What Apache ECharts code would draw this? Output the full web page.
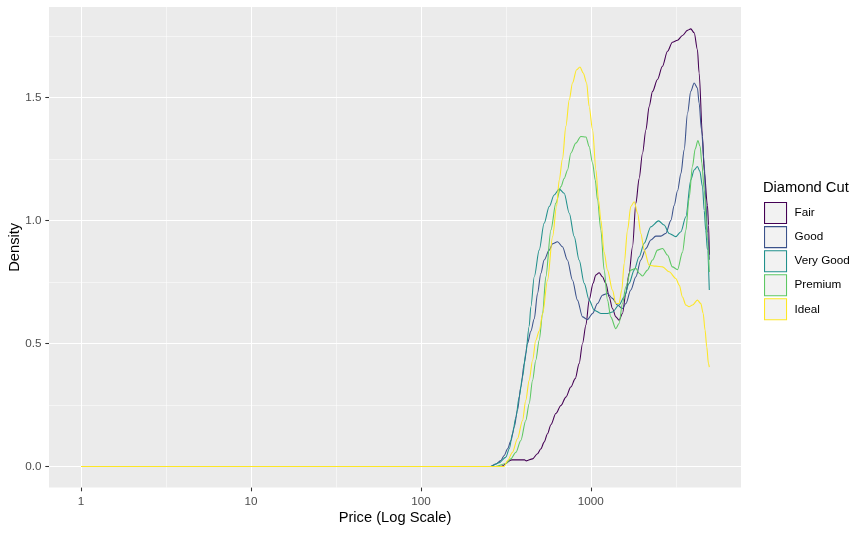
<!DOCTYPE html>
<html>
<head>
<meta charset="utf-8">
<script src="https://cdn.jsdelivr.net/npm/echarts@6/dist/echarts.min.js"></script>
<style>
html,body{margin:0;padding:0;background:#fff;}
#chart{width:865px;height:533px;}
</style>
</head>
<body>
<div id="chart"></div>
<script>
const cuts = ['Fair', 'Good', 'Very Good', 'Premium', 'Ideal'];
const cutColors = ['#440154', '#3B528B', '#21908C', '#5DC863', '#FDE725'];

const fairLogPrice = [0, 2.47, 2.535, 2.61, 2.62, 2.657, 2.686, 2.706, 2.725, 2.745, 2.765, 2.794, 2.824, 2.853, 2.882, 2.908, 2.931, 2.951, 2.971, 2.99, 3.013, 3.029, 3.049, 3.068, 3.088, 3.108, 3.127, 3.147, 3.166, 3.186, 3.206, 3.225, 3.245, 3.265, 3.284, 3.304, 3.324, 3.343, 3.363, 3.392, 3.421, 3.451, 3.48, 3.51, 3.539, 3.568, 3.588, 3.608, 3.627, 3.637, 3.657, 3.667, 3.686, 3.693, 3.697];
const fairDensity  = [0, 0, 0.027, 0.027, 0.023, 0.031, 0.052, 0.072, 0.099, 0.133, 0.17, 0.215, 0.248, 0.282, 0.323, 0.357, 0.418, 0.5, 0.575, 0.676, 0.744, 0.778, 0.787, 0.771, 0.744, 0.689, 0.642, 0.608, 0.594, 0.622, 0.703, 0.785, 0.893, 1.07, 1.17, 1.273, 1.368, 1.463, 1.524, 1.572, 1.626, 1.687, 1.724, 1.732, 1.751, 1.772, 1.778, 1.762, 1.694, 1.599, 1.341, 1.2, 1.06, 0.98, 0.86];

const goodLogPrice = [0, 2.41, 2.44, 2.47, 2.49, 2.51, 2.53, 2.549, 2.568, 2.588, 2.608, 2.627, 2.647, 2.667, 2.686, 2.706, 2.725, 2.755, 2.775, 2.804, 2.833, 2.862, 2.892, 2.921, 2.951, 2.98, 3.01, 3.039, 3.068, 3.098, 3.127, 3.157, 3.186, 3.206, 3.235, 3.265, 3.294, 3.324, 3.353, 3.382, 3.412, 3.441, 3.471, 3.49, 3.51, 3.53, 3.549, 3.569, 3.588, 3.608, 3.627, 3.637, 3.651, 3.667, 3.676, 3.686, 3.697];
const goodDensity  = [0, 0, 0.01, 0.024, 0.045, 0.072, 0.106, 0.16, 0.228, 0.323, 0.418, 0.5, 0.55, 0.6, 0.703, 0.785, 0.839, 0.879, 0.905, 0.913, 0.893, 0.839, 0.757, 0.676, 0.608, 0.597, 0.622, 0.662, 0.696, 0.703, 0.683, 0.656, 0.642, 0.662, 0.717, 0.771, 0.839, 0.886, 0.92, 0.936, 0.936, 0.947, 1.0, 1.06, 1.12, 1.19, 1.287, 1.436, 1.524, 1.558, 1.538, 1.477, 1.368, 1.233, 1.083, 0.95, 0.84];

const veryGoodLogPrice = [0, 2.41, 2.46, 2.5, 2.52, 2.539, 2.559, 2.578, 2.598, 2.617, 2.637, 2.647, 2.667, 2.696, 2.725, 2.755, 2.784, 2.814, 2.843, 2.873, 2.902, 2.931, 2.961, 2.99, 3.02, 3.059, 3.098, 3.127, 3.166, 3.196, 3.225, 3.255, 3.284, 3.314, 3.353, 3.398, 3.431, 3.461, 3.5, 3.53, 3.559, 3.588, 3.608, 3.627, 3.641, 3.657, 3.667, 3.676, 3.686, 3.697];
const veryGoodDensity  = [0, 0, 0.015, 0.038, 0.072, 0.133, 0.2, 0.282, 0.364, 0.459, 0.57, 0.649, 0.771, 0.879, 0.988, 1.056, 1.103, 1.127, 1.11, 1.029, 0.934, 0.839, 0.744, 0.676, 0.635, 0.622, 0.622, 0.628, 0.656, 0.689, 0.744, 0.798, 0.852, 0.907, 0.974, 0.998, 0.981, 0.947, 0.934, 0.954, 1.015, 1.164, 1.205, 1.219, 1.2, 1.137, 1.04, 0.96, 0.88, 0.717];

const premiumLogPrice = [0, 2.44, 2.5, 2.529, 2.559, 2.588, 2.617, 2.637, 2.657, 2.676, 2.696, 2.716, 2.735, 2.765, 2.794, 2.824, 2.843, 2.863, 2.882, 2.912, 2.941, 2.971, 2.99, 3.01, 3.026, 3.039, 3.059, 3.078, 3.098, 3.117, 3.147, 3.166, 3.186, 3.206, 3.235, 3.265, 3.284, 3.304, 3.333, 3.363, 3.392, 3.422, 3.451, 3.48, 3.51, 3.539, 3.559, 3.578, 3.598, 3.614, 3.63, 3.643, 3.653, 3.667, 3.686, 3.697];
const premiumDensity  = [0, 0, 0.012, 0.031, 0.058, 0.106, 0.187, 0.255, 0.35, 0.432, 0.513, 0.62, 0.771, 0.961, 1.07, 1.137, 1.17, 1.205, 1.273, 1.314, 1.341, 1.339, 1.3, 1.233, 1.164, 1.083, 0.96, 0.8, 0.676, 0.608, 0.56, 0.581, 0.662, 0.73, 0.798, 0.805, 0.785, 0.774, 0.798, 0.839, 0.879, 0.886, 0.859, 0.811, 0.8, 0.87, 0.96, 1.09, 1.22, 1.29, 1.324, 1.3, 1.233, 1.124, 0.92, 0.79];

const idealLogPrice = [0, 2.49, 2.51, 2.539, 2.568, 2.598, 2.617, 2.637, 2.657, 2.676, 2.696, 2.716, 2.745, 2.775, 2.798, 2.814, 2.833, 2.853, 2.873, 2.892, 2.916, 2.936, 2.955, 2.975, 2.99, 3.01, 3.03, 3.045, 3.059, 3.078, 3.098, 3.127, 3.147, 3.166, 3.182, 3.196, 3.216, 3.235, 3.255, 3.275, 3.294, 3.314, 3.343, 3.382, 3.422, 3.461, 3.5, 3.52, 3.539, 3.559, 3.578, 3.598, 3.627, 3.647, 3.661, 3.672, 3.682, 3.692, 3.697];
const idealDensity  = [0, 0, 0.024, 0.058, 0.113, 0.187, 0.269, 0.35, 0.432, 0.513, 0.55, 0.62, 0.757, 0.934, 1.056, 1.164, 1.25, 1.382, 1.49, 1.558, 1.612, 1.623, 1.599, 1.558, 1.463, 1.368, 1.205, 1.083, 1.0, 0.87, 0.798, 0.717, 0.662, 0.662, 0.717, 0.825, 0.961, 1.056, 1.076, 1.029, 0.947, 0.879, 0.818, 0.814, 0.811, 0.791, 0.764, 0.737, 0.689, 0.656, 0.649, 0.656, 0.676, 0.662, 0.622, 0.554, 0.486, 0.418, 0.404];

const xTickLogValues = [0, 1, 2, 3];
const xMinorLogValues = [0.5, 1.5, 2.5, 3.5];
const yTickValues = [0, 0.5, 1.0, 1.5];
const yMinorValues = [0.25, 0.75, 1.25, 1.75];

const xs = [fairLogPrice, goodLogPrice, veryGoodLogPrice, premiumLogPrice, idealLogPrice];
const ys = [fairDensity, goodDensity, veryGoodDensity, premiumDensity, idealDensity];

const X_MIN = -0.1885, X_MAX = 3.8835;   // ggplot-style expansion
const Y_MIN = -0.0857, Y_MAX = 1.8669;
const FONT = '"Liberation Sans", Arial, sans-serif';

const series = cuts.map((c, i) => ({
  name: c,
  type: 'line',
  xAxisIndex: 0,
  yAxisIndex: 0,
  showSymbol: false,
  symbol: 'none',
  smooth: 0.3,
  smoothMonotone: 'x',
  lineStyle: { color: cutColors[i], width: 1.07 },
  itemStyle: { color: cutColors[i] },
  data: xs[i].map((x, k) => [x, ys[i][k]])
}));

const chart = echarts.init(document.getElementById('chart'), null, { renderer: 'canvas' });
chart.setOption({
  animation: false,
  backgroundColor: '#FFFFFF',
  textStyle: { fontFamily: FONT },
  title: {
    text: 'Diamond Cut',
    left: 763, top: 180, padding: 0,
    textStyle: { fontFamily: FONT, fontSize: 14.7, fontWeight: 'normal', color: '#000000' }
  },
  legend: {
    orient: 'vertical',
    left: 764, top: 202,
    itemWidth: 22, itemHeight: 21, itemGap: 2,
    padding: 0,
    icon: 'rect',
    selectedMode: false,
    textStyle: { fontFamily: FONT, fontSize: 11.7, color: '#000000', padding: [0, 0, 0, 3] },
    data: cuts.map((c, i) => ({
      name: c,
      icon: 'rect',
      itemStyle: { color: '#F2F2F2', borderColor: cutColors[i], borderWidth: 1.07 }
    }))
  },
  grid: {
    left: 49, right: 124, top: 7, bottom: 45.4,
    show: true, backgroundColor: '#EBEBEB', borderWidth: 0,
    containLabel: false, outerBoundsMode: 'none'
  },
  xAxis: [
    {
      type: 'value', min: X_MIN, max: X_MAX, position: 'bottom',
      name: 'Price (Log Scale)', nameLocation: 'middle', nameGap: 23, nameMoveOverlap: false,
      nameTextStyle: { fontFamily: FONT, fontSize: 14.7, color: '#000000' },
      axisLine: { show: false, onZero: false },
      axisTick: { show: true, customValues: xTickLogValues, length: 3.7, lineStyle: { color: '#333333', width: 1.07 } },
      axisLabel: { customValues: xTickLogValues, margin: 8, fontFamily: FONT, fontSize: 11.7, color: '#4D4D4D',
        formatter: v => String(Math.round(Math.pow(10, v))) },
      splitLine: { show: true, lineStyle: { color: '#FFFFFF', width: 1.07 } }
    },
    {
      type: 'value', min: X_MIN, max: X_MAX, position: 'top',
      axisLine: { show: false, onZero: false },
      axisTick: { show: false, customValues: xMinorLogValues },
      axisLabel: { show: false, customValues: xMinorLogValues },
      splitLine: { show: true, lineStyle: { color: '#FFFFFF', width: 0.53 } }
    }
  ],
  yAxis: [
    {
      type: 'value', min: Y_MIN, max: Y_MAX, position: 'left',
      name: 'Density', nameLocation: 'middle', nameGap: 27, nameRotate: 90, nameMoveOverlap: false,
      nameTextStyle: { fontFamily: FONT, fontSize: 14.7, color: '#000000' },
      axisLine: { show: false, onZero: false },
      axisTick: { show: true, customValues: yTickValues, length: 3.7, lineStyle: { color: '#333333', width: 1.07 } },
      axisLabel: { customValues: yTickValues, margin: 7.5, fontFamily: FONT, fontSize: 11.7, color: '#4D4D4D',
        formatter: v => v.toFixed(1) },
      splitLine: { show: true, lineStyle: { color: '#FFFFFF', width: 1.07 } }
    },
    {
      type: 'value', min: Y_MIN, max: Y_MAX, position: 'right',
      axisLine: { show: false, onZero: false },
      axisTick: { show: false, customValues: yMinorValues },
      axisLabel: { show: false, customValues: yMinorValues },
      splitLine: { show: true, lineStyle: { color: '#FFFFFF', width: 0.53 } }
    }
  ],
  series: series
});
</script>
</body>
</html>
